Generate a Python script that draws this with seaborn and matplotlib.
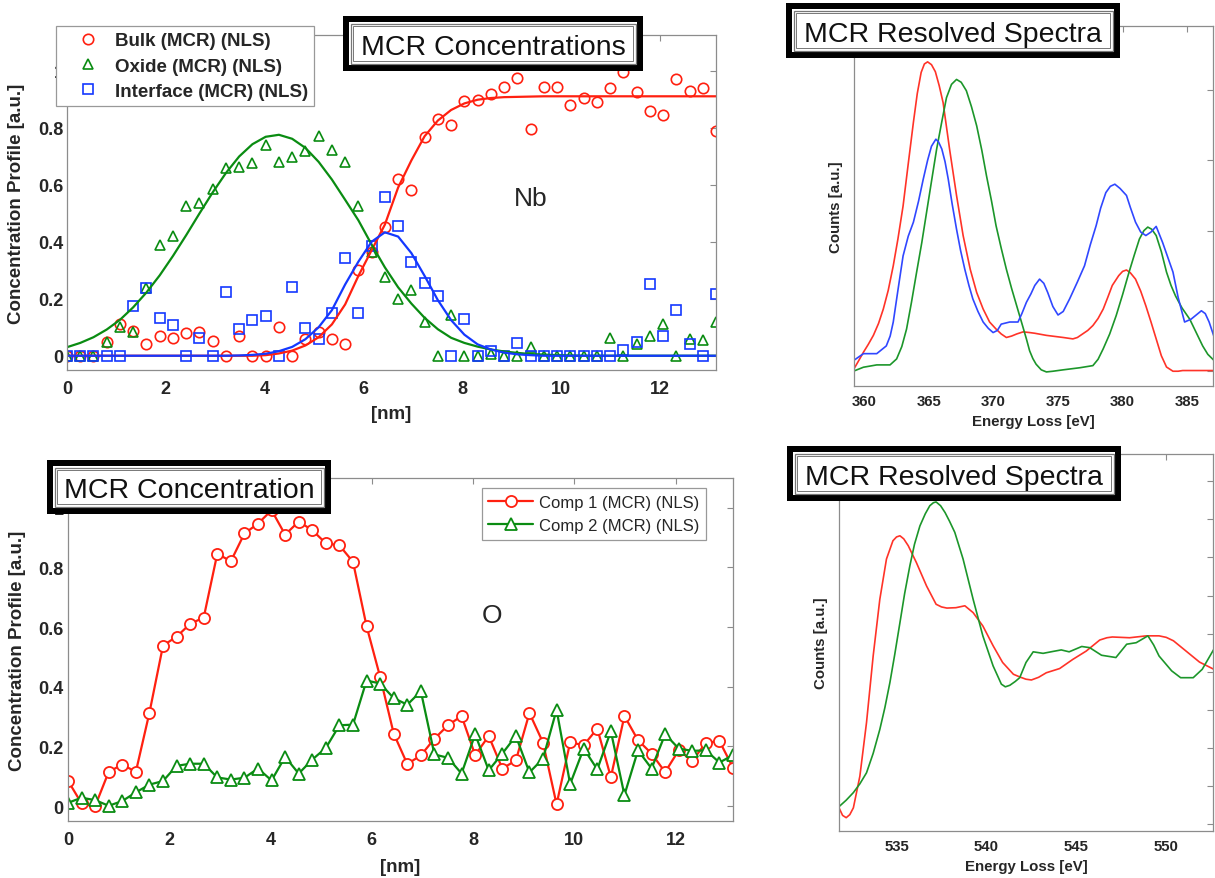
import numpy as np
import matplotlib
matplotlib.use("Agg")
import matplotlib.pyplot as plt
import seaborn as sns
from matplotlib.patches import Rectangle
from matplotlib.lines import Line2D

sns.set_style("white")
plt.rcParams['font.family'] = ['Liberation Sans', 'DejaVu Sans']

# --------------------------------------------
# Data: concentration profiles (position in nm)
# --------------------------------------------
pos_nm = [0, 0.268, 0.536, 0.804, 1.072, 1.34, 1.608, 1.876, 2.144, 2.412,
          2.68, 2.948, 3.216, 3.484, 3.752, 4.02, 4.288, 4.556, 4.824, 5.092,
          5.36, 5.628, 5.896, 6.164, 6.432, 6.7, 6.968, 7.236, 7.504, 7.772,
          8.04, 8.308, 8.576, 8.844, 9.112, 9.38, 9.648, 9.916, 10.184, 10.452,
          10.72, 10.988, 11.256, 11.524, 11.792, 12.06, 12.328, 12.596, 12.864, 13.132]

bulk_pts = [0, 0, 0, 0.047, 0.11, 0.088, 0.04, 0.068, 0.061, 0.08,
            0.085, 0.053, 0, 0.068, 0, 0, 0.10, 0, 0.058, 0.085,
            0.058, 0.04, 0.30, 0.365, 0.45, 0.62, 0.58, 0.768, 0.83, 0.81,
            0.893, 0.897, 0.918, 0.941, 0.973, 0.797, 0.941, 0.941, 0.88, 0.904,
            0.891, 0.938, 0.996, 0.924, 0.857, 0.844, 0.971, 0.93, 0.939, 0.789]
oxide_pts = [0, 0, 0, 0.049, 0.10, 0.082, 0.239, 0.39, 0.419, 0.524,
             0.536, 0.585, 0.657, 0.661, 0.676, 0.74, 0.68, 0.698, 0.719, 0.772,
             0.723, 0.68, 0.524, 0.363, 0.275, 0.20, 0.232, 0.12, 0, 0.144,
             0, 0, 0.007, 0, 0, 0.03, 0, 0, 0, 0,
             0, 0.062, 0, 0.04, 0.068, 0.111, 0, 0.06, 0.055, 0.12]
interface_pts = [0, 0, 0, 0, 0, 0.175, 0.236, 0.132, 0.108, 0,
                 0.062, 0, 0.222, 0.094, 0.126, 0.14, 0, 0.242, 0.097, 0.058,
                 0.15, 0.343, 0.15, 0.386, 0.556, 0.455, 0.329, 0.254, 0.211, 0,
                 0.13, 0, 0.015, 0, 0.045, 0, 0, 0, 0, 0,
                 0, 0, 0.02, 0.047, 0.253, 0.068, 0.162, 0.041, 0, 0.216]

bulk_fit = [0, 0, 0, 0, 0, 0, 0, 0, 0, 0,
            0, 0, 0, 0, 0, 0.002, 0.008, 0.018, 0.036, 0.065,
            0.11, 0.18, 0.28, 0.37, 0.46, 0.59, 0.685, 0.77, 0.825, 0.862,
            0.885, 0.898, 0.904, 0.907, 0.908, 0.909, 0.91, 0.91, 0.91, 0.91,
            0.91, 0.91, 0.91, 0.91, 0.91, 0.91, 0.91, 0.91, 0.91, 0.91]
oxide_fit = [0.030, 0.045, 0.065, 0.092, 0.126, 0.170, 0.222, 0.282, 0.350, 0.423,
             0.499, 0.573, 0.641, 0.699, 0.742, 0.768, 0.775, 0.761, 0.729, 0.680,
             0.618, 0.547, 0.475, 0.39, 0.31, 0.24, 0.183, 0.133, 0.093, 0.063,
             0.045, 0.032, 0.022, 0.015, 0.010, 0.006, 0.004, 0.002, 0.001, 0,
             0, 0, 0, 0, 0, 0, 0, 0, 0, 0]
interface_fit = [0, 0, 0, 0, 0, 0, 0, 0, 0, 0,
                 0, 0, 0, 0.001, 0.003, 0.007, 0.016, 0.031, 0.058, 0.10,
                 0.16, 0.25, 0.33, 0.40, 0.433, 0.418, 0.36, 0.28, 0.195, 0.125,
                 0.074, 0.040, 0.022, 0.011, 0.005, 0.002, 0, 0, 0, 0,
                 0, 0, 0, 0, 0, 0, 0, 0, 0, 0]

comp1 = [0.085, 0.009, 0, 0.115, 0.139, 0.115, 0.313, 0.538, 0.568, 0.611,
         0.632, 0.846, 0.821, 0.914, 0.947, 0.992, 0.910, 0.954, 0.925, 0.881,
         0.874, 0.819, 0.603, 0.433, 0.243, 0.141, 0.17, 0.226, 0.271, 0.302,
         0.171, 0.235, 0.126, 0.153, 0.312, 0.213, 0.006, 0.214, 0.204, 0.26,
         0.097, 0.302, 0.221, 0.176, 0.114, 0.187, 0.152, 0.212, 0.218, 0.129]
comp2 = [0.011, 0.028, 0.02, 0.001, 0.017, 0.046, 0.072, 0.084, 0.135, 0.142,
         0.142, 0.096, 0.089, 0.095, 0.126, 0.086, 0.165, 0.109, 0.156, 0.195,
         0.271, 0.273, 0.421, 0.411, 0.362, 0.34, 0.385, 0.173, 0.162, 0.109,
         0.241, 0.12, 0.176, 0.235, 0.113, 0.159, 0.323, 0.074, 0.193, 0.123,
         0.251, 0.037, 0.187, 0.126, 0.241, 0.193, 0.185, 0.187, 0.146, 0.171]

# --------------------------------------------
# Data: resolved spectra (Nb M edge)
# --------------------------------------------
nb_red_ev = [359.15, 359.5, 359.93, 360.3, 360.7, 361.1, 361.47, 361.85, 362.24, 362.6,
             363.0, 363.4, 363.8, 364.1, 364.4, 364.65, 364.9, 365.2, 365.5, 365.8,
             366.1, 366.6, 367.14, 367.65, 368.2, 368.7, 369.2, 369.7, 370.2, 370.6,
             371.0, 371.4, 371.8, 372.3, 372.8, 373.2, 374.1, 375.4, 376.15, 376.5,
             376.9, 377.3, 377.7, 378.1, 378.5, 378.85, 379.2, 379.7, 380.0, 380.3,
             380.6, 381.0, 381.4, 381.8, 382.2, 382.6, 383.0, 383.4, 383.9, 384.3,
             384.65, 387.1]
nb_red_counts = [0.02, 0.13, 0.27, 0.38, 0.51, 0.68, 0.885, 1.15, 1.50, 1.88,
                 2.35, 2.95, 3.54, 3.95, 4.25, 4.37, 4.40, 4.36, 4.26, 4.06,
                 3.82, 3.16, 2.50, 1.93, 1.45, 1.12, 0.885, 0.70, 0.60, 0.53,
                 0.48, 0.50, 0.53, 0.56, 0.55, 0.54, 0.51, 0.48, 0.46, 0.48,
                 0.53, 0.58, 0.65, 0.75, 0.885, 1.05, 1.22, 1.36, 1.42, 1.44,
                 1.40, 1.31, 1.14, 0.93, 0.70, 0.46, 0.22, 0.06, 0.0, 0.0,
                 0.01, 0.01]
nb_green_ev = [359.15, 359.93, 360.96, 361.99, 362.5, 362.9, 363.27, 363.65, 364.05, 364.45,
               364.82, 365.2, 365.6, 366.0, 366.36, 366.75, 367.14, 367.5, 367.9, 368.3,
               368.7, 369.1, 369.46, 369.85, 370.2, 370.6, 371.0, 371.4, 371.8, 372.2,
               372.55, 372.8, 373.05, 373.3, 373.7, 374.1, 374.6, 375.4, 376.7, 377.7,
               378.1, 378.5, 379.0, 379.5, 380.0, 380.5, 380.9, 381.3, 381.65, 381.95,
               382.25, 382.6, 383.0, 383.4, 383.75, 384.1, 384.6, 385.2, 385.7, 386.2,
               386.6, 387.1]
nb_green_counts = [0.0, 0.057, 0.09, 0.09, 0.175, 0.35, 0.60, 0.98, 1.41, 1.83,
                   2.26, 2.70, 3.16, 3.55, 3.89, 4.08, 4.15, 4.11, 3.99, 3.76,
                   3.49, 3.14, 2.78, 2.42, 2.07, 1.75, 1.45, 1.18, 0.93, 0.68,
                   0.46, 0.29, 0.18, 0.10, 0.02, -0.01, 0.0, 0.02, 0.05, 0.08,
                   0.17, 0.32, 0.53, 0.79, 1.09, 1.41, 1.65, 1.88, 2.0, 2.05,
                   2.02, 1.93, 1.70, 1.41, 1.22, 1.07, 0.90, 0.74, 0.55, 0.36,
                   0.24, 0.15]
nb_blue_ev = [359.15, 359.93, 360.96, 361.7, 362.0, 362.24, 362.6, 363.0, 363.4, 363.8,
              364.2, 364.56, 364.9, 365.2, 365.54, 365.75, 366.0, 366.25, 366.5, 366.8,
              367.14, 367.45, 367.78, 368.1, 368.4, 368.8, 369.2, 369.6, 369.97, 370.3,
              370.6, 371.26, 371.9, 372.2, 372.55, 372.9, 373.2, 373.57, 373.9, 374.2,
              374.6, 375.0, 375.4, 375.9, 376.5, 377.05, 377.5, 377.95, 378.3, 378.7,
              379.05, 379.4, 379.8, 380.3, 380.6, 381.0, 381.4, 381.8, 382.2, 382.6,
              383.1, 383.5, 383.9, 384.3, 384.8, 385.3, 385.7, 386.1, 386.4, 386.7,
              387.1]
nb_blue_counts = [0.15, 0.25, 0.25, 0.36, 0.50, 0.70, 1.15, 1.64, 1.92, 2.12,
                  2.42, 2.73, 3.0, 3.2, 3.30, 3.26, 3.16, 2.98, 2.73, 2.38,
                  2.02, 1.72, 1.45, 1.22, 1.03, 0.85, 0.70, 0.61, 0.55, 0.58,
                  0.67, 0.70, 0.70, 0.82, 0.98, 1.10, 1.22, 1.31, 1.25, 1.12,
                  0.92, 0.80, 0.85, 1.03, 1.27, 1.50, 1.80, 2.07, 2.32, 2.54,
                  2.63, 2.66, 2.60, 2.50, 2.33, 2.12, 1.98, 1.93, 1.98, 2.06,
                  1.83, 1.62, 1.41, 1.05, 0.70, 0.74, 0.80, 0.86, 0.82, 0.70,
                  0.48]

# O K edge
o_red_ev = [531.8, 532.0, 532.2, 532.4, 532.6, 532.96, 533.33, 533.7, 534.07, 534.44,
            534.8, 535.0, 535.19, 535.4, 535.65, 536.1, 536.67, 537.2, 537.5, 537.8,
            538.3, 538.8, 539.26, 539.8, 540.37, 540.9, 541.5, 541.85, 542.2, 542.5,
            542.9, 543.33, 544.07, 544.8, 545.55, 546.3, 546.7, 547.0, 547.96, 548.9,
            549.6, 550.0, 550.4, 551.1, 551.85, 552.65]
o_red_counts = [0.42, 0.22, 0.16, 0.24, 0.42, 1.25, 2.66, 4.41, 5.9, 6.96,
                7.44, 7.54, 7.57, 7.49, 7.31, 6.87, 6.25, 5.77, 5.70, 5.67,
                5.68, 5.73, 5.55, 5.2, 4.68, 4.24, 3.93, 3.86, 3.80, 3.78,
                3.85, 3.97, 4.08, 4.32, 4.54, 4.83, 4.89, 4.91, 4.89, 4.94,
                4.94, 4.90, 4.81, 4.54, 4.25, 4.06]
o_green_ev = [531.8, 532.2, 532.6, 532.96, 533.33, 533.7, 534.07, 534.35, 534.63, 534.9,
              535.19, 535.45, 535.74, 536.0, 536.3, 536.6, 536.85, 537.05, 537.2, 537.45,
              537.7, 537.95, 538.24, 538.7, 539.26, 539.8, 540.37, 540.83, 541.05, 541.3,
              541.6, 541.85, 542.2, 542.6, 543.15, 543.7, 544.16, 544.6, 545.3, 545.74,
              546.4, 547.2, 547.8, 548.33, 548.98, 549.3, 549.6, 550.3, 550.8, 551.5,
              552.0, 552.65]
o_green_counts = [0.45, 0.62, 0.82, 1.05, 1.34, 1.85, 2.48, 3.05, 3.71, 4.45,
                  5.29, 6.05, 6.78, 7.35, 7.83, 8.15, 8.36, 8.44, 8.46, 8.36,
                  8.18, 7.95, 7.66, 6.96, 5.9, 4.94, 4.15, 3.67, 3.60, 3.64,
                  3.74, 3.84, 4.24, 4.52, 4.48, 4.53, 4.57, 4.52, 4.66, 4.63,
                  4.43, 4.37, 4.72, 4.76, 4.94, 4.70, 4.41, 4.02, 3.84, 3.84,
                  4.06, 4.59]

legend_top = ["Bulk (MCR) (NLS)", "Oxide (MCR) (NLS)", "Interface (MCR) (NLS)"]
legend_bottom = ["Comp 1 (MCR) (NLS)", "Comp 2 (MCR) (NLS)"]

RED = '#ff2010'
GREEN = '#0a8c12'
BLUE = '#1438ff'
FRAME = '#8c8c8c'

# --------------------------------------------
# Figure and axes (pixel layout)
# --------------------------------------------
W, H = 1215, 879
fig = plt.figure(figsize=(W / 100, H / 100), dpi=100)


def px_axes(l, t, r, b):
    return fig.add_axes([l / W, 1 - b / H, (r - l) / W, (b - t) / H])


def style_axes(ax, fs, xpad, ypad):
    for s in ax.spines.values():
        s.set_visible(True)
        s.set_color(FRAME)
        s.set_linewidth(0.9)
    ax.tick_params(direction='in', length=4, width=0.8, color=FRAME,
                   top=True, right=True, labelsize=fs)
    ax.tick_params(axis='x', pad=xpad)
    ax.tick_params(axis='y', pad=ypad)
    for lab in ax.get_xticklabels() + ax.get_yticklabels():
        lab.set_fontweight('bold')


def title_box(l, t, r, b, text):
    tr = fig.transFigure
    fig.add_artist(Rectangle((l / W, 1 - b / H), (r - l) / W, (b - t) / H,
                             transform=tr, facecolor='black', edgecolor='none'))
    for inset, lw in [(6, 0), (7.5, 0.9), (10, 0.7)]:
        fig.add_artist(Rectangle(((l + inset) / W, 1 - (b - inset) / H),
                                 (r - l - 2 * inset) / W, (b - t - 2 * inset) / H,
                                 transform=tr, facecolor='white' if lw == 0 else 'none',
                                 edgecolor='#777777', linewidth=lw))
    fig.text((l + r) / 2 / W, 1 - ((t + b) / 2 + 10.5) / H, text,
             ha='center', va='baseline', fontsize=20.5, color='#111111')


# ---- top left: MCR concentrations ----
ax1 = px_axes(67, 36, 716, 371)
mk = dict(linestyle='', markerfacecolor='none', markeredgewidth=1.2,
          estimator=None, errorbar=None)
sns.lineplot(x=pos_nm, y=bulk_pts, ax=ax1, marker='o', markersize=7.5,
             color=RED, markeredgecolor=RED, **mk)
sns.lineplot(x=pos_nm, y=oxide_pts, ax=ax1, marker='^', markersize=7.5,
             color=GREEN, markeredgecolor=GREEN, **mk)
sns.lineplot(x=pos_nm, y=interface_pts, ax=ax1, marker='s', markersize=6.5,
             color=BLUE, markeredgecolor=BLUE, **mk)
for fit, col in [(bulk_fit, RED), (oxide_fit, GREEN), (interface_fit, BLUE)]:
    sns.lineplot(x=pos_nm, y=fit, ax=ax1, color=col, linewidth=1.6,
                 estimator=None, errorbar=None)
ax1.set_xlim(0, pos_nm[-1])
ax1.set_ylim(-0.05, 1.125)
ax1.set_xticks([0, 2, 4, 6, 8, 10, 12])
ax1.set_yticks([0, 0.2, 0.4, 0.6, 0.8, 1.0])
ax1.set_yticklabels(['0', '0.2', '0.4', '0.6', '0.8', '1'])
style_axes(ax1, 13, 7.5, 2.5)
ax1.set_xlabel('[nm]', fontsize=13.5, fontweight='bold')
ax1.set_ylabel('Concentration Profile [a.u.]', fontsize=13.5, fontweight='bold')
ax1.xaxis.set_label_coords(0.5, -0.105)
ax1.yaxis.set_label_coords(-0.065, 0.5)
ax1.text(9.39, 0.553, 'Nb', fontsize=19, ha='center', va='center')
h_top = [Line2D([], [], ls='none', marker='o', ms=7.5, mfc='none', mec=RED, mew=1.2),
         Line2D([], [], ls='none', marker='^', ms=7.5, mfc='none', mec=GREEN, mew=1.2),
         Line2D([], [], ls='none', marker='s', ms=6.5, mfc='none', mec=BLUE, mew=1.2)]
leg1 = ax1.legend(h_top, legend_top, loc='upper left',
                  bbox_to_anchor=(56 / W, 1 - 27 / H), bbox_transform=fig.transFigure,
                  borderaxespad=0, fancybox=False, framealpha=1, edgecolor='#999999',
                  prop={'weight': 'bold', 'size': 13.5}, handlelength=2.77,
                  handletextpad=0.05, borderpad=0.32, labelspacing=0.44)
leg1.get_frame().set_linewidth(0.9)

# ---- bottom left: MCR concentration ----
ax2 = px_axes(68, 479, 733, 822)
ln = dict(linewidth=1.6, markersize=8, markerfacecolor='white',
          markeredgewidth=1.3, estimator=None, errorbar=None)
sns.lineplot(x=pos_nm, y=comp1, ax=ax2, color=RED, marker='o',
             markeredgecolor=RED, **ln)
sns.lineplot(x=pos_nm, y=comp2, ax=ax2, color=GREEN, marker='^',
             markeredgecolor=GREEN, **ln)
ax2.set_xlim(0, pos_nm[-1])
ax2.set_ylim(-0.05, 1.1)
ax2.set_xticks([0, 2, 4, 6, 8, 10, 12])
ax2.set_yticks([0, 0.2, 0.4, 0.6, 0.8, 1.0])
ax2.set_yticklabels(['0', '0.2', '0.4', '0.6', '0.8', '1'])
style_axes(ax2, 13, 7.5, 3.0)
ax2.set_xlabel('[nm]', fontsize=13.5, fontweight='bold')
ax2.set_ylabel('Concentration Profile [a.u.]', fontsize=13.5, fontweight='bold')
ax2.xaxis.set_label_coords(0.5, -0.108)
ax2.yaxis.set_label_coords(-0.063, 0.5)
ax2.text(8.37, 0.641, 'O', fontsize=19, ha='center', va='center')
h_bot = [Line2D([], [], color=RED, lw=1.6, marker='o', ms=8, mfc='white', mec=RED, mew=1.3),
         Line2D([], [], color=GREEN, lw=1.6, marker='^', ms=8, mfc='white', mec=GREEN, mew=1.3)]
leg2 = ax2.legend(h_bot, legend_bottom, loc='upper left',
                  bbox_to_anchor=(481.7 / W, 1 - 489.3 / H), bbox_transform=fig.transFigure,
                  borderaxespad=0, fancybox=False, framealpha=1, edgecolor='#999999',
                  prop={'size': 12}, handlelength=2.7, handletextpad=0.36,
                  borderpad=0.4, labelspacing=0.49)
leg2.get_frame().set_linewidth(0.9)

# ---- top right: Nb spectra ----
ax3 = px_axes(854, 27, 1213, 387)
sp = dict(linewidth=1.2, estimator=None, errorbar=None)
sns.lineplot(x=nb_red_ev, y=nb_red_counts, ax=ax3, color='#ff3328', **sp)
sns.lineplot(x=nb_green_ev, y=nb_green_counts, ax=ax3, color='#1c962a', **sp)
sns.lineplot(x=nb_blue_ev, y=nb_blue_counts, ax=ax3, color='#3047ff', **sp)
ax3.set_xlim(359.2, 387.0)
ax3.set_ylim(-0.21, 4.91)
ax3.set_xticks([360, 365, 370, 375, 380, 385])
ax3.set_yticks([0, 1, 2, 3, 4])
ax3.set_yticklabels([])
style_axes(ax3, 10.8, 6, 2)
ax3.set_xlabel('Energy Loss [eV]', fontsize=10.8, fontweight='bold')
ax3.set_ylabel('Counts [a.u.]', fontsize=10.8, fontweight='bold')
ax3.xaxis.set_label_coords(0.5, -0.077)
ax3.yaxis.set_label_coords(-0.03, 0.5)

# ---- bottom right: O spectra ----
ax4 = px_axes(839, 455, 1213, 832)
sns.lineplot(x=o_red_ev, y=o_red_counts, ax=ax4, color='#ff3328', **sp)
sns.lineplot(x=o_green_ev, y=o_green_counts, ax=ax4, color='#1c962a', **sp)
ax4.set_xlim(531.8, 552.6)
ax4.set_ylim(-0.19, 9.72)
ax4.set_xticks([535, 540, 545, 550])
ax4.set_yticks(list(range(10)))
ax4.set_yticklabels([])
style_axes(ax4, 10.8, 5.5, 2)
ax4.set_xlabel('Energy Loss [eV]', fontsize=10.8, fontweight='bold')
ax4.set_ylabel('Counts [a.u.]', fontsize=10.8, fontweight='bold')
ax4.xaxis.set_label_coords(0.5, -0.075)
ax4.yaxis.set_label_coords(-0.029, 0.5)

# ---- framed titles ----
title_box(343, 17, 643, 72, 'MCR Concentrations')
title_box(47, 461, 331, 515, 'MCR Concentration')
title_box(786, 4, 1120, 59, 'MCR Resolved Spectra')
title_box(787, 447, 1121, 502, 'MCR Resolved Spectra')

fig.savefig('out.png', dpi=100)
